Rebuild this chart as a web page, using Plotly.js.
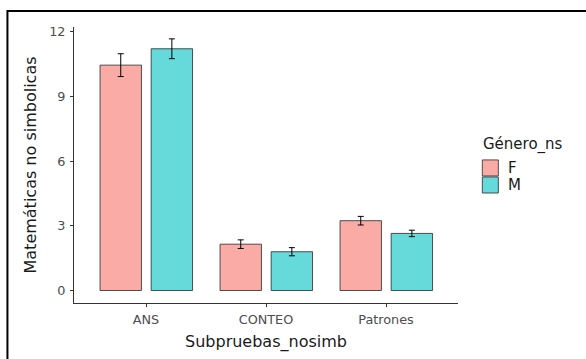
<!DOCTYPE html>
<html>
<head>
<meta charset="utf-8">
<script src="https://cdn.plot.ly/plotly-3.0.1.min.js"></script>
<style>
  html, body { margin: 0; padding: 0; background: #ffffff; }
  #chart { width: 586px; height: 359px; }
</style>
</head>
<body>
<div id="chart"></div>
<script>
// Subtest categories and group means with their error margins
const subpruebas = ["ANS", "CONTEO", "Patrones"];
const mediaF = [10.46, 2.15, 3.24];
const errorF = [0.53, 0.20, 0.20];
const mediaM = [11.22, 1.80, 2.65];
const errorM = [0.46, 0.19, 0.15];
const generos = ["F", "M"];
const yTicks = [0, 3, 6, 9, 12];

const fontFam = "DejaVu Sans, Verdana, sans-serif";
const edge = "rgba(51,51,51,0.85)";
const fills = ["#FAABA6", "#66D9DB"];

// plot area geometry in pixels
const W = 586, H = 359;
const M = { l: 74, r: 128.3, t: 27.4, b: 56.3 };
const plotW = W - M.l - M.r, plotH = H - M.t - M.b;
const px = x => (x - M.l) / plotW;          // pixel x -> paper x
const py = y => (H - M.b - y) / plotH;      // pixel y -> paper y

function barTrace(name, y, err, fill, offset) {
  return {
    type: "bar",
    name: name,
    x: subpruebas,
    y: y,
    width: 0.345,
    offset: offset,
    marker: { color: fill, line: { color: edge, width: 1 } },
    error_y: { type: "data", array: err, visible: true, color: "#000000", thickness: 1, width: 3 },
    hoverinfo: "none"
  };
}

const data = [
  barTrace(generos[0], mediaF, errorF, fills[0], -0.383),
  barTrace(generos[1], mediaM, errorM, fills[1], 0.043)
];

// legend keys and labels
const keyShapes = generos.map((g, i) => ({
  type: "rect", xref: "paper", yref: "paper",
  x0: px(482), x1: px(498),
  y0: py(176 + 17 * i), y1: py(160 + 17 * i),
  fillcolor: fills[i],
  line: { color: edge, width: 1 }
}));
const keyLabels = generos.map((g, i) => ({
  xref: "paper", yref: "paper",
  x: px(506), y: py(168 + 17 * i),
  xanchor: "left", yanchor: "middle",
  text: g, showarrow: false,
  font: { size: 15, color: "#1A1A1A", family: fontFam }
}));

const layout = {
  width: W,
  height: H,
  paper_bgcolor: "#ffffff",
  plot_bgcolor: "#ffffff",
  margin: M,
  font: { family: fontFam, color: "#4D4D4D" },
  barmode: "overlay",
  showlegend: false,
  xaxis: {
    type: "category",
    range: [-0.6, 2.6],
    showline: true, linecolor: "#333333", linewidth: 1,
    ticks: "outside", ticklen: 3, tickcolor: "#333333",
    ticklabelstandoff: 2,
    showgrid: false, zeroline: false,
    tickfont: { size: 12.8, color: "#4D4D4D", family: fontFam },
    title: { text: "Subpruebas_nosimb", font: { size: 16, color: "#1A1A1A", family: fontFam }, standoff: 9 }
  },
  yaxis: {
    range: [-0.58, 12.23],
    tickvals: yTicks,
    ticktext: yTicks.map(String),
    showline: true, linecolor: "#333333", linewidth: 1,
    ticks: "outside", ticklen: 3, tickcolor: "#333333",
    ticklabelstandoff: 2,
    showgrid: false, zeroline: false,
    tickfont: { size: 12.8, color: "#4D4D4D", family: fontFam },
    title: { text: "Matemáticas no simbolicas", font: { size: 16, color: "#1A1A1A", family: fontFam }, standoff: 8 }
  },
  annotations: [{
    xref: "paper", yref: "paper",
    x: px(481), y: py(145),
    xanchor: "left", yanchor: "middle",
    text: "Género_ns", showarrow: false,
    font: { size: 15, color: "#1A1A1A", family: fontFam }
  }].concat(keyLabels),
  shapes: [{
    type: "path", xref: "paper", yref: "paper",
    path: "M " + px(7.5) + "," + py(H + 20) + " L " + px(7.5) + "," + py(11.5) + " L " + px(W + 20) + "," + py(11.5),
    line: { color: "#000000", width: 2 }
  }].concat(keyShapes)
};

Plotly.newPlot("chart", data, layout, { staticPlot: true, displayModeBar: false });
</script>
</body>
</html>
